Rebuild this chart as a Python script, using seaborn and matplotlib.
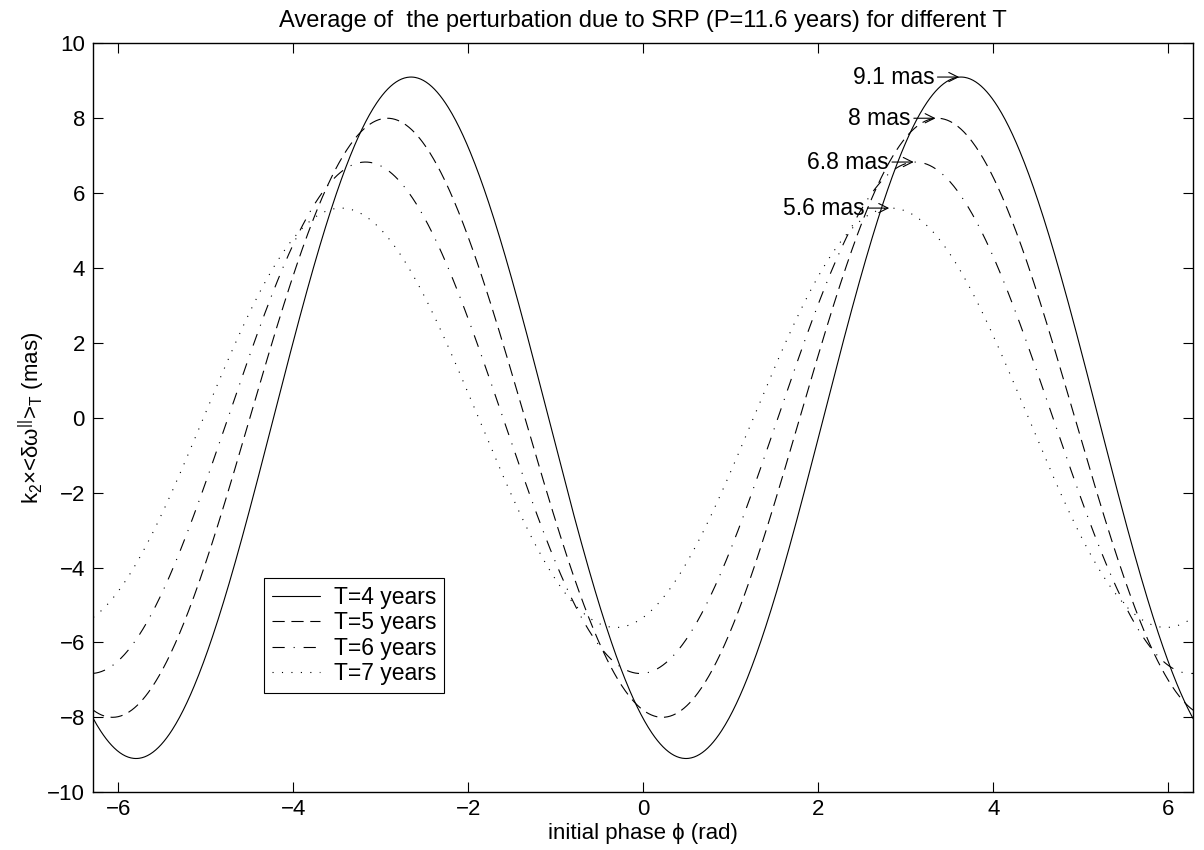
import numpy as np
import pandas as pd
import matplotlib
matplotlib.use("Agg")
import matplotlib.pyplot as plt
import seaborn as sns

# values
periods = [4, 5, 6, 7]                      # averaging time T (years)
amplitudes = [9.1, 8.0, 6.83, 5.6]          # peak value of each curve (mas)
peak_phase = [3.63, 3.36, 3.11, 2.83]       # phase of the right-hand maximum (rad)
peak_labels = ["9.1 mas", "8 mas", "6.8 mas", "5.6 mas"]
legend_labels = ["T=4 years", "T=5 years", "T=6 years", "T=7 years"]
x_ticks = [-6, -4, -2, 0, 2, 4, 6]
y_ticks = [-10, -8, -6, -4, -2, 0, 2, 4, 6, 8, 10]

line_styles = ["-", (0, (11, 6)), (0, (11, 8, 1, 8)), (0, (1, 7.5))]

sns.set_theme(style="white")
plt.rcParams["font.family"] = ["Liberation Sans", "DejaVu Sans"]
plt.rcParams["mathtext.fontset"] = "custom"
plt.rcParams["mathtext.rm"] = "Liberation Sans"
plt.rcParams["mathtext.it"] = "Liberation Sans:italic"
plt.rcParams["mathtext.default"] = "rm"
for key in ["text.color", "axes.labelcolor", "xtick.color", "ytick.color"]:
    plt.rcParams[key] = "black"

# each curve is a sinusoid in the initial phase (the averaged SRP perturbation)
phi = np.linspace(-2 * np.pi, 2 * np.pi, 1200)
frames = []
for T, A, p in zip(periods, amplitudes, peak_phase):
    frames.append(pd.DataFrame({"phi": phi, "val": A * np.cos(phi - p), "T": T}))
df = pd.concat(frames, ignore_index=True)

fig = plt.figure(figsize=(12.04, 8.5), dpi=100)
ax = fig.add_axes([0.0775, 0.068, 0.9135, 0.881])

for T, ls, lab in zip(periods, line_styles, legend_labels):
    sns.lineplot(data=df[df["T"] == T], x="phi", y="val", ax=ax, color="black",
                 linewidth=0.8, linestyle=ls, label=lab, errorbar=None)

for A, p, txt in zip(amplitudes, peak_phase, peak_labels):
    ax.annotate(txt, xy=(p - 0.02, A), xytext=(-18, 0), textcoords="offset points",
                ha="right", va="center", fontsize=16.5,
                arrowprops=dict(arrowstyle="->", color="black", lw=0.8,
                                shrinkA=0, shrinkB=0))

ax.set_xlim(-2 * np.pi, 2 * np.pi)
ax.set_ylim(-10, 10)
ax.set_xticks(x_ticks)
ax.set_yticks(y_ticks)
ax.set_xticklabels([str(t).replace("-", "\u2212") for t in x_ticks])
ax.set_yticklabels([str(t).replace("-", "\u2212") for t in y_ticks])
ax.tick_params(axis="both", direction="in", length=7, width=0.8, labelsize=16,
               top=True, right=True, bottom=True, left=True, color="black")
ax.tick_params(axis="x", pad=5)
ax.tick_params(axis="y", pad=6)
for s in ax.spines.values():
    s.set_color("black")
    s.set_linewidth(1.0)

ax.set_xlabel("initial phase \u03d5 (rad)", fontsize=16, labelpad=2)
ax.set_ylabel(r"k$_2$×<δω$^{||}$>$_T$ (mas)", fontsize=16, labelpad=0)
ax.set_title("Average of  the perturbation due to SRP (P=11.6 years) for different T",
             fontsize=17, pad=11.5)

leg = ax.legend(loc="upper left", bbox_to_anchor=(0.1552, 0.2858), borderaxespad=0,
                fontsize=16.5, frameon=True, fancybox=False, framealpha=1,
                edgecolor="black", borderpad=0.35, handlelength=2.1,
                handletextpad=0.6, labelspacing=0.1)
leg.get_frame().set_linewidth(0.8)

fig.savefig("out.png", dpi=100)
